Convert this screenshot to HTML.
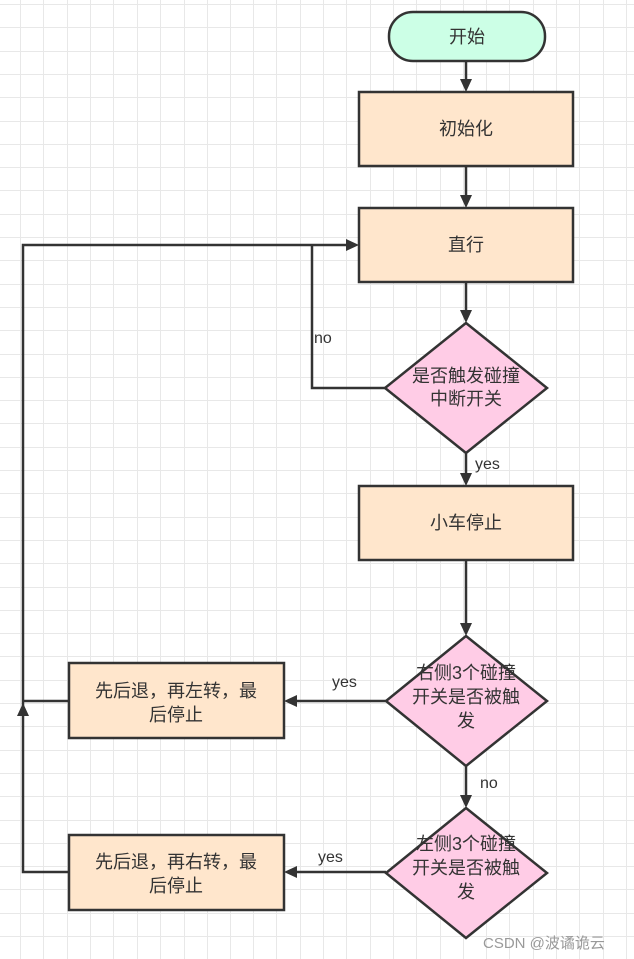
<!DOCTYPE html>
<html><head><meta charset="utf-8"><style>
html,body{margin:0;padding:0;background:#fff;}
svg{display:block;}
text{font-family:"Liberation Sans","Noto Sans CJK SC",sans-serif;fill:#333;}
</style></head><body>
<svg width="634" height="959" viewBox="0 0 634 959" xmlns="http://www.w3.org/2000/svg">
<rect width="634" height="959" fill="#fff"/>
<path stroke="#e8e8e8" stroke-width="1" fill="none" d="M20.5 0V959M43.5 0V959M67.5 0V959M90.5 0V959M113.5 0V959M137.5 0V959M160.5 0V959M184.5 0V959M207.5 0V959M230.5 0V959M253.5 0V959M276.5 0V959M300.5 0V959M323.5 0V959M346.5 0V959M370.5 0V959M393.5 0V959M416.5 0V959M440.5 0V959M463.5 0V959M486.5 0V959M509.5 0V959M533.5 0V959M556.5 0V959M579.5 0V959M603.5 0V959M626.5 0V959
M0 4.5H634M0 27.5H634M0 51.5H634M0 74.5H634M0 97.5H634M0 121.5H634M0 144.5H634M0 167.5H634M0 190.5H634M0 214.5H634M0 237.5H634M0 260.5H634M0 284.5H634M0 307.5H634M0 330.5H634M0 354.5H634M0 377.5H634M0 400.5H634M0 423.5H634M0 447.5H634M0 470.5H634M0 493.5H634M0 517.5H634M0 540.5H634M0 563.5H634M0 587.5H634M0 610.5H634M0 633.5H634M0 656.5H634M0 680.5H634M0 703.5H634M0 726.5H634M0 750.5H634M0 773.5H634M0 796.5H634M0 820.5H634M0 843.5H634M0 866.5H634M0 889.5H634M0 913.5H634M0 936.5H634"/>
<g stroke="#333" stroke-width="2.5" fill="none">
<line x1="466" y1="61" x2="466" y2="80"/>
<line x1="466" y1="166" x2="466" y2="196"/>
<line x1="466" y1="282" x2="466" y2="311"/>
<line x1="466" y1="453" x2="466" y2="474"/>
<line x1="466" y1="560" x2="466" y2="624"/>
<line x1="466" y1="766" x2="466" y2="796"/>
<polyline points="386,388 312,388 312,245"/>
<polyline points="69,872 23,872 23,245 347,245"/>
<line x1="69" y1="701" x2="23" y2="701"/>
<line x1="386" y1="701" x2="296" y2="701"/>
<line x1="386" y1="872" x2="296" y2="872"/>
</g>
<g fill="#333">
<polygon points="460,79 472,79 466,92"/>
<polygon points="460,195 472,195 466,208"/>
<polygon points="460,310 472,310 466,323"/>
<polygon points="460,473 472,473 466,486"/>
<polygon points="460,623 472,623 466,636"/>
<polygon points="460,795 472,795 466,808"/>
<polygon points="346,239 346,251 359,245"/>
<polygon points="297,695 297,707 284,701"/>
<polygon points="297,866 297,878 284,872"/>
<polygon points="17,716 29,716 23,703"/>
</g>
<g stroke="#333" stroke-width="2.5">
<rect x="389" y="12" width="156" height="49" rx="24" fill="#ccffe6"/>
<rect x="359" y="92" width="214" height="74" fill="#ffe6cc"/>
<rect x="359" y="208" width="214" height="74" fill="#ffe6cc"/>
<rect x="359" y="486" width="214" height="74" fill="#ffe6cc"/>
<rect x="69" y="663" width="215" height="75" fill="#ffe6cc"/>
<rect x="69" y="835" width="215" height="75" fill="#ffe6cc"/>
<polygon points="466,323 547,388 466,453 385,388" fill="#ffcce6"/>
<polygon points="466,636 547,701 466,766 386,701" fill="#ffcce6"/>
<polygon points="466,808 547,873 466,938 386,873" fill="#ffcce6"/>
</g>
<g font-size="18" text-anchor="middle">
<text x="467" y="43">开始</text>
<text x="466" y="135">初始化</text>
<text x="466" y="251">直行</text>
<text x="466" y="529">小车停止</text>
<text x="466" y="382">是否触发碰撞</text>
<text x="466" y="405">中断开关</text>
<text x="466" y="679">右侧3个碰撞</text>
<text x="466" y="703">开关是否被触</text>
<text x="466" y="727">发</text>
<text x="466" y="850">左侧3个碰撞</text>
<text x="466" y="874">开关是否被触</text>
<text x="466" y="898">发</text>
<text x="176" y="697">先后退，再左转，最</text>
<text x="176" y="721">后停止</text>
<text x="176" y="868">先后退，再右转，最</text>
<text x="176" y="892">后停止</text>
</g>
<g font-size="16">
<text x="314" y="343">no</text>
<text x="475" y="469">yes</text>
<text x="332" y="687">yes</text>
<text x="480" y="788">no</text>
<text x="318" y="862">yes</text>
</g>
<text x="483" y="948" font-size="15" style="fill:#999">CSDN @波谲诡云</text>
</svg>
</body></html>
